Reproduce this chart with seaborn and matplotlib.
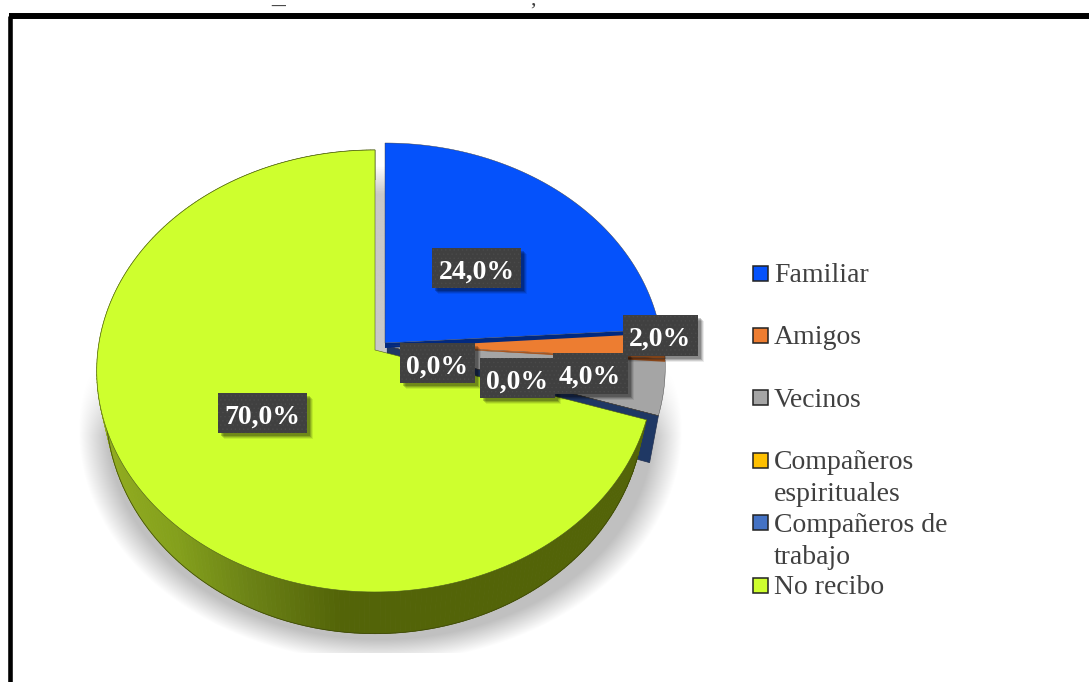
import numpy as np
import matplotlib
matplotlib.use("Agg")
import matplotlib.pyplot as plt
import matplotlib.colors as mcolors
from matplotlib.patches import Rectangle
import seaborn as sns

categories = ["Familiar", "Amigos", "Vecinos", "Compañeros\nespirituales", "Compañeros de\ntrabajo", "No recibo"]
values = [24.0, 2.0, 4.0, 0.0, 0.0, 70.0]
colors = ["#0552FB", "#ED7D31", "#A5A5A5", "#FFC000", "#4472C4", "#CEFF2E"]

sns.set_theme(style="white")
plt.rcParams['font.family'] = ['Liberation Serif', 'DejaVu Serif']
palette = sns.color_palette(colors)

# where each slice sits once exploded (pixels)
centers = [(385, 343), (387, 345), (387, 346), (387, 346), (387, 346), (375, 350)]
# centre of each percent box (pixels)
label_pos = [(476.5, 268), (660.5, 335.5), (590, 373.5), (437, 363), (517, 378), (262.5, 413)]

fig = plt.figure(figsize=(10.89, 6.82), dpi=100)
ax = fig.add_axes([0, 0, 1, 1])
ax.set_xlim(0, 1089)
ax.set_ylim(682, 0)
ax.axis('off')

# perspective of the pie
K = 0.095
TOP_A, TOP_B = 277, 219
BOT_A, BOT_B = 268, 225


def project(center, theta, level=0, depth=35):
    # theta in degrees, clockwise from 12 o'clock
    t = np.radians(theta)
    u, v = np.sin(t), -np.cos(t)
    w = 1 - K * v
    if level == 0:
        return center[0] + TOP_A * u / w, center[1] + TOP_B * v / w
    return center[0] + BOT_A * u / w, center[1] + depth + BOT_B * v / w


def wedge(center, start, end):
    th = np.linspace(start, end, 200)
    x, y = project(center, th)
    return np.r_[center[0], x], np.r_[center[1], y]


# soft shadow under the pie
yy, xx = np.mgrid[340:653, 70:690]
d = np.sqrt(((xx - 380) / 302.0) ** 2 + ((yy - 430) / 232.0) ** 2)
alpha = np.clip((1 - d) / 0.1, 0, 1) * 0.25 * np.clip((yy - 365) / 70.0, 0, 1)
img = np.zeros(d.shape + (4,))
img[..., 3] = alpha
ax.imshow(img, extent=(70, 690, 653, 340), aspect='auto', zorder=1)

# inner wall seen in the gap next to the big slice
gy = np.linspace(0, 1, 100).reshape(-1, 1)
wall = np.ones((100, 1, 4))
wall[..., :3] = mcolors.to_rgb("#C8C8C8")
wall[..., 3] = np.clip(gy / 0.15, 0, 1)
ax.imshow(wall, extent=(375, 386, 353, 165), aspect='auto', zorder=2)

ax.set_xlim(0, 1089)
ax.set_ylim(682, 0)

bounds = np.r_[0, np.cumsum(values)] * 3.6

# cut face of the zero slice, navy band behind the big slice
c = centers[4]
x0, y0 = project(c, bounds[5])
x1, y1 = project(c, bounds[5], 1, depth=45)
ax.fill([c[0], x0, x1, c[0]], [c[1], y0, y1, c[1] + 45], color="#1F3864", ec="#22304f", lw=0.5, zorder=3)

# slices, drawn back to front
for i in [2, 3, 4, 1, 0]:
    c = centers[i]
    x, y = wedge(c, bounds[i], bounds[i + 1])
    if i in (0, 1):
        # thin dark edge below the face
        edge = "#01297F" if i == 0 else "#A9561F"
        drop = (4, 5) if i == 0 else (3, 0)
        xe, ye = project(c, bounds[i + 1])
        ax.fill([c[0], xe, xe, c[0]], [c[1], ye, ye + drop[0], c[1] + drop[1]], color=edge, lw=0, zorder=4 + i * 0.1)
    ax.fill(x, y, color=palette[i], ec="#3a3a3a", lw=0.3, zorder=5 if i == 0 else 4)

# side wall of the big slice, lighter on the left
c = centers[5]
th = np.linspace(bounds[5], bounds[6], 260)
wx = [105, 180, 250, 340, 700]
shades = np.array([mcolors.to_rgb(s) for s in ["#93AD20", "#84A01C", "#6C8316", "#536408", "#536408"]])
for a, b in zip(th[:-1], th[1:]):
    xa, ya = project(c, a)
    xb, yb = project(c, b)
    xc, yc = project(c, b, 1)
    xd, yd = project(c, a, 1)
    col = [np.interp((xc + xd) / 2, wx, shades[:, k]) for k in range(3)]
    ax.fill([xa, xb, xc, xd], [ya, yb, yc, yd], color=col, lw=0.6, zorder=6)
xb0, yb0 = project(c, th, 1)
ax.plot(xb0, yb0, color="#3c4608", lw=0.5, zorder=6.5)

x, y = wedge(c, bounds[5], bounds[6])
ax.fill(x, y, color=palette[5], ec="#4a5a18", lw=0.4, zorder=7)

# percent boxes
plt.rcParams['hatch.linewidth'] = 0.5
for val, (px, py) in zip(values, label_pos):
    txt = f"{val:.1f}%".replace(".", ",")
    w = 89 if val >= 10 else 75
    h = 40.5
    for s, al in [(6, 0.08), (5, 0.12), (4, 0.16), (3, 0.2)]:
        ax.add_patch(Rectangle((px - w / 2 + s, py - h / 2 + s), w, h, fc="black", alpha=al, lw=0, zorder=8))
    ax.add_patch(Rectangle((px - w / 2, py - h / 2), w, h, fc="#404040", ec="#4A4A4A", hatch="....", lw=0, zorder=9))
    ax.text(px, py + 4, txt, color="white", fontsize=20, fontweight="bold", ha="center", va="center", zorder=10)

# legend
for i, (name, col) in enumerate(zip(categories, palette)):
    ly = 273 + 62.4 * i
    ax.add_patch(Rectangle((753, ly - 7.5), 15, 15, fc=col, ec="#222222", lw=1.1, zorder=5))
    ax.text(774, ly - 10, name, color="#404040", fontsize=20, ha="left", va="top", linespacing=1.38, zorder=5)

# outer frame, runs off the page at the right and the bottom
ax.plot([10, 10], [682, 16], color="black", lw=3.3, solid_capstyle="butt", zorder=11)
ax.plot([8.8, 1089], [16, 16], color="black", lw=4.3, solid_capstyle="butt", zorder=11)

# what is left of the cut-off line above the frame
ax.text(278, -3, "_", color="#404040", fontsize=20, ha="center", va="center", zorder=11)
ax.text(533, 0, ",", color="#404040", fontsize=16, ha="center", va="center", zorder=11)

fig.savefig("out.png", dpi=100)
